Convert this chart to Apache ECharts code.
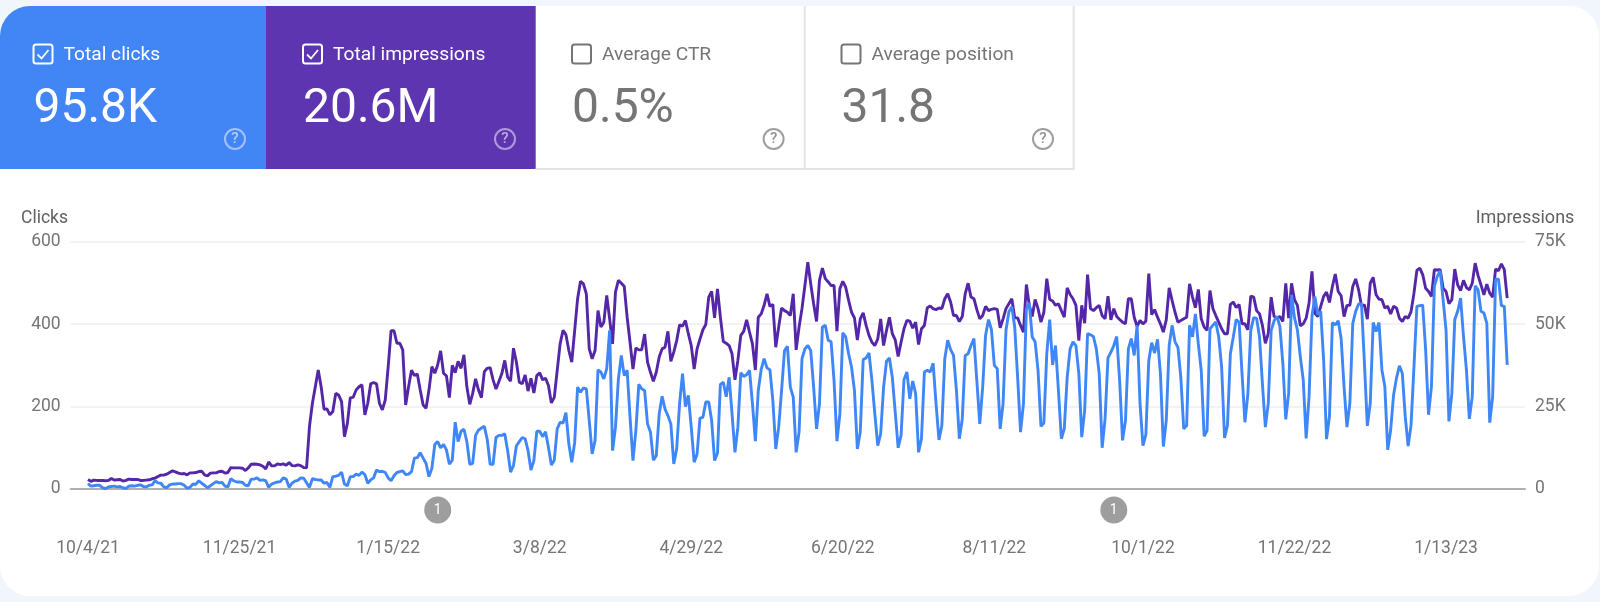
<!DOCTYPE html>
<html><head><meta charset="utf-8">
<style>html,body{margin:0;padding:0;background:#f1f5fc}#c{width:1600px;height:602px}</style>
<script src="https://cdn.jsdelivr.net/npm/echarts@6/dist/echarts.min.js"></script>
</head><body><div id="c"></div>
<script>
const tickDays=[0,52,103,155,207,259,311,362,414,466];
const tickLabels=["10/4/21","11/25/21","1/15/22","3/8/22","4/29/22","6/20/22","8/11/22","10/1/22","11/22/22","1/13/23"];
const annotationDays=[120,352];
const annotationLabels=["1","1"];
const clicks=[
13,7,8,9,9,3,1, 5,6,7,5,6,3,1, 7,8,7,9,10,6,5, 9,10,20,15,14,5,3, 10,12,12,13,13,9,2,
4,12,11,20,14,9,3, 8,13,18,15,16,7,5, 25,20,17,17,16,9,8, 24,24,27,21,22,20,4, 12,15,17,18,27,24,4,
14,19,21,27,26,15,4, 25,23,22,22,14,16,4, 30,31,33,41,12,8,30, 30,36,33,41,35,14,22, 27,46,42,43,40,27,20,
32,40,42,44,35,36,42, 75,76,88,75,62,30,50, 108,115,100,108,95,60,70, 162,115,140,145,115,60,62, 130,143,148,152,120,60,60,
125,130,130,134,93,41,57,
105,115,125,122,93,46,69, 140,140,127,139,101,58,70, 146,162,160,185,109,65,113, 247,235,245,243,166,85,118,
289,284,267,292,385,93,150, 267,324,275,288,174,69,142, 254,243,239,158,138,70,81, 182,225,194,178,158,61,97,
207,280,200,227,150,65,85, 172,174,211,211,166,69,87, 254,259,224,271,182,89,150, 282,273,277,288,207,116,239,
290,316,294,289,215,97,150, 239,336,346,247,223,89,138, 316,340,348,336,247,146,207, 393,397,361,357,263,116,182,
379,369,328,296,239,97,138, 314,318,330,263,182,105,134, 247,310,318,271,186,100,130, 265,284,219,262,231,89,122,
284,288,284,305,207,119,154, 316,361,338,324,239,122,170, 324,328,348,365,263,158,247, 373,411,387,300,292,146,207,
385,430,442,393,271,138,207, 438,451,369,357,288,152,160, 328,411,301,348,239,122,146, 271,340,357,348,280,126,190,
377,374,370,340,280,100,170, 318,332,348,370,263,118,166, 340,365,324,397,207,105,132, 312,355,330,363,280,103,166,
348,397,357,344,271,146,154, 397,369,425,352,288,128,142, 389,397,405,369,296,124,154, 328,369,411,405,280,162,231,
385,416,414,369,255,150,207, 385,408,419,394,305,169,232, 471,415,386,321,265,123,224, 419,467,423,431,313,121,176,
404,398,408,366,249,150,208, 402,431,449,449,305,153,208, 404,382,404,289,249,95,143, 228,269,299,281,176,104,155,
297,443,445,446,338,180,249, 492,516,530,459,386,164,232, 411,431,463,370,289,170,224, 493,483,431,427,402,161,224,
509,509,445,443,301
];
const impressionsK=[
2.9,2.3,2.7,2.6,2.6,2.6,2.5, 2.6,3.2,2.7,2.8,2.9,2.4,2.6, 3.0,2.9,2.9,2.9,2.6,2.6,2.7, 2.8,3.1,3.3,3.8,4.2,4.2,4.5,
5.0,5.5,5.2,4.8,4.6,4.7,4.3, 4.9,4.9,5.0,5.3,5.4,4.3,4.0, 4.8,4.9,4.9,5.3,5.4,4.8,5.0, 6.5,6.4,6.4,6.4,6.3,5.6,6.4,
7.5,7.6,7.5,7.3,6.9,6.1,8.2, 7.0,7.0,7.6,7.4,7.6,7.2,8.0, 7.1,7.0,7.3,7.1,6.5,6.4,19,
26,31,36.1,31,24.2,24.3,22.5, 23.5,29,28.5,26.5,15.9,19.9,27.7, 27.8,30,31,31.6,22.5,26,31.9, 32.3,31.9,26,24,27,37,48,
48,44.2,44.2,42.2,25.5,31,36, 34.4,34.9,30,25.5,24.5,30,37.1, 35.1,37.7,41.9,35.1,34.3,27.7,37.5, 35.3,38.7,36.6,40.7,31,25.7,29,
33.4,30,27.7,35.6,36.6,36.8,33.1, 30.3,32.6,35,39,33.9,32.7,42.7, 38.5,32.4,31.9,34.6,29.7,33.6,29.1,
34.4,35.2,33.1,33.6,31.4,26.1,27.8, 35.9,44,48.1,46.8,42,38.5,48.1, 57.7,63,62.2,59.2,42.5,39.5,42,
54.1,49.1,50.6,58.7,51.6,44,59.7, 63.3,62.4,61.5,52.1,44.5,36.4,42.8, 42.2,42.2,47,38.5,35.4,32.7,35.4,
40,42.5,43,47.8,38.7,41.5,45, 49.8,49.4,51.1,47.1,43.5,36.4,42.5, 45.5,48.3,49.9,58.2,59.9,51.9,60.7,
52.1,44.7,44.2,43.5,41,33.1,39, 46.6,47.8,51.3,47.6,44,36.1,52.1, 53.1,55.7,59.2,55.4,56,43,49.1,
54.9,54.1,53.6,52.6,59.2,42.2,49.1, 54.7,61.7,68.8,62.2,56.2,50.8,63.3, 67,63.8,62.8,61.7,61.7,47.9,60.7,
63,61.2,57.2,53.6,51.9,45.2,51.6, 53.4,49.6,46.6,44.5,43.5,45.5,51.6, 43.5,48.1,52.1,47.1,45.2,40.2,44.5,
48.6,51.1,50.9,48.8,50.6,43.8,48.6, 49.6,55,55.5,54.7,54.4,54.9,54.7, 57.7,59.2,56.7,52.6,52.6,50.8,52.3,
59.2,62.4,58.2,57.7,54.4,51.6,52.6, 55.4,54.1,54.5,54.7,54.5,48.9,51.6, 54.7,56.2,57.7,51.9,51.9,49.6,47.6,
62,55.7,52.3,57.5,54.7,50.6,53.6, 63.8,57.5,57,55.7,56.2,54.1,52.1, 61,59,57.7,55.7,45,55.7,50.3,
65,54.7,54.1,55,55.7,52.6,51.6, 58.5,51.3,54.7,52.3,51.4,50.6,50.1, 57.7,57.7,52.1,49.3,51.1,50.1,50.9,
65.3,52.9,54.4,52.1,50.1,47.6,51.3, 61,57.2,53.6,50.6,51.1,51.6,52.1, 62.2,58.2,55,60.5,51.6,49.1,48.1,
60.2,54.7,52.6,50.6,48.6,47.1,47.1, 56,56.7,55,56,50.1,50.1,48.3, 58.5,58.2,54.1,53.1,49.6,44.2,47.1,
58.2,52.3,51.9,52.3,50.8,62.4,51.8, 62.4,57.4,55.7,49.5,50.1,51.8,56.4, 66,53.3,52.3,55.4,58.4,59.7,56.6,
61.4,65.2,59.9,58.6,52.3,55.7,55.7, 61.4,63.7,60.4,55.4,55.9,51.5,62.4, 64.2,58.9,57.6,57.4,54.9,55.4,53.1,
55.4,54.9,51.8,50.8,52.3,51.8,53.8, 59.4,66.3,67,65,60.9,59.9,58.4, 66.5,66.4,66.5,60.9,59.9,56.2,57.4,
66.7,61.9,60.2,63.3,61.1,60.4,62.4, 68.5,64.7,61.9,58.9,62.1,59.4,58.2, 66.7,66.2,68.3,66.5,57.9
];
const tiles=[
 {x:0,w:266,fill:"#4285f4",title:"Total clicks",value:"95.8K",on:true,box:33.5,text:63.5,val:33.5,q:235},
 {x:266,w:269.7,fill:"#5e35b1",title:"Total impressions",value:"20.6M",on:true,box:303,text:333,val:303,q:505},
 {x:535.7,w:269,fill:"#ffffff",title:"Average CTR",value:"0.5%",on:false,box:572,text:602,val:572,q:773.6},
 {x:804.7,w:269,fill:"#ffffff",title:"Average position",value:"31.8",on:false,box:841.5,text:871.5,val:841.5,q:1043}
];
const font="Roboto";
const axisFont=17.5;
const els=[{type:"rect",z:-10,shape:{x:0,y:6,width:1599,height:590,r:30},style:{fill:"#fff"}}];
tiles.forEach((t,i)=>{
  const fg=t.on?"#ffffff":"#757575";
  if(t.on){
    els.push({type:"rect",z:-9,shape:{x:t.x,y:6,width:t.w,height:163,r:i===0?[30,0,0,0]:0},style:{fill:t.fill}});
  }else{
    els.push({type:"line",z:-9,shape:{x1:t.x,y1:169,x2:t.x+t.w,y2:169},style:{stroke:"#e3e3e3",lineWidth:2}});
    els.push({type:"line",z:-9,shape:{x1:t.x+t.w,y1:6,x2:t.x+t.w,y2:170},style:{stroke:"#e3e3e3",lineWidth:2}});
  }
  els.push({type:"rect",shape:{x:t.box,y:44.5,width:19,height:19,r:2.5},style:{fill:"none",stroke:fg,lineWidth:2}});
  if(t.on)els.push({type:"polyline",shape:{points:[[t.box+4,54.5],[t.box+8,58.5],[t.box+15,50]]},style:{fill:"none",stroke:"#fff",lineWidth:1.8}});
  els.push({type:"text",style:{x:t.text,y:55,text:t.title,fill:fg,font:"400 19.2px "+font,textVerticalAlign:"middle"}});
  els.push({type:"text",style:{x:t.val,y:110,text:t.value,fill:fg,font:"400 48px "+font,textVerticalAlign:"middle"}});
  els.push({type:"circle",shape:{cx:t.q,cy:139,r:10},style:{fill:"none",stroke:fg,lineWidth:2,opacity:t.on?0.5:0.7}});
  els.push({type:"text",style:{x:t.q,y:139.5,text:"?",fill:fg,opacity:t.on?0.6:0.8,font:"500 15px "+font,textAlign:"center",textVerticalAlign:"middle"}});
});
const chart=echarts.init(document.getElementById("c"),null,{renderer:"canvas"});
chart.setOption({
 animation:false,backgroundColor:"#f1f5fc",
 textStyle:{fontFamily:font},
 graphic:{elements:els},
 grid:{left:70.7,right:75,top:241.7,bottom:113,containLabel:false},
 xAxis:{type:"value",min:-5.94,max:493.1,
   axisLine:{show:true,onZero:true,lineStyle:{color:"#b0b0b0",width:2}},
   axisTick:{show:false},splitLine:{show:false},
   axisLabel:{customValues:tickDays,margin:51,color:"#757575",fontSize:axisFont,fontFamily:font,
     formatter:v=>tickLabels[tickDays.indexOf(v)]||""}},
 yAxis:[
  {type:"value",min:0,max:600,interval:200,name:"Clicks",nameLocation:"end",nameGap:14,
   nameTextStyle:{color:"#616161",fontSize:17.5,fontFamily:font,align:"right",padding:[0,20,0,0]},
   axisLine:{show:false},axisTick:{show:false},
   axisLabel:{margin:10,color:"#757575",fontSize:axisFont,fontFamily:font,padding:[5,0,0,0]},
   splitLine:{lineStyle:{color:"#eeeeee",width:1.5}}},
  {type:"value",min:0,max:75,interval:25,position:"right",name:"Impressions",nameLocation:"end",nameGap:14,
   nameTextStyle:{color:"#616161",fontSize:18,fontFamily:font,align:"center"},
   axisLine:{show:false},axisTick:{show:false},splitLine:{show:false},
   axisLabel:{margin:10,color:"#757575",fontSize:axisFont,fontFamily:font,padding:[5,0,0,0],formatter:v=>v===0?"0":v+"K"}}
 ],
 series:[
  {name:"Impressions",type:"line",yAxisIndex:1,showSymbol:false,silent:true,
   lineStyle:{color:"#5427a8",width:2.9},data:impressionsK.map((v,i)=>[i,v])},
  {name:"Clicks",type:"line",yAxisIndex:0,showSymbol:false,silent:true,
   lineStyle:{color:"#3f86f7",width:2.9},data:clicks.map((v,i)=>[i,v])},
  {name:"Annotations",type:"scatter",yAxisIndex:0,clip:false,silent:true,symbolSize:27,symbolOffset:[0,21],
   itemStyle:{color:"#9e9e9e",opacity:1},
   label:{show:true,position:"inside",offset:[0,0],color:"#fff",fontSize:14,fontFamily:font,formatter:p=>annotationLabels[p.dataIndex]},
   data:annotationDays.map(d=>[d,0])}
 ]
});
</script></body></html>
